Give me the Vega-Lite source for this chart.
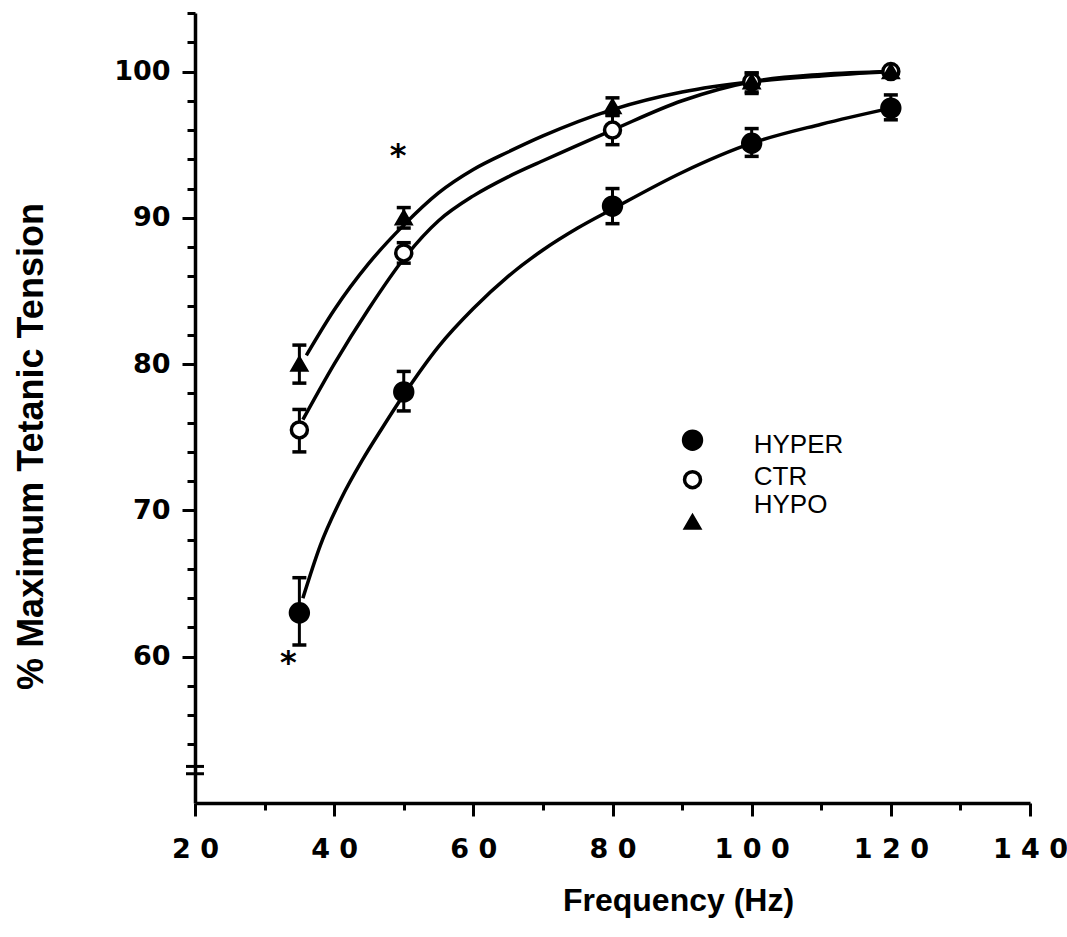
{
  "$schema": "https://vega.github.io/schema/vega-lite/v6.json",
  "width": 835,
  "height": 790,
  "autosize": {"type": "none"},
  "padding": {"left": 195, "top": 13, "right": 37, "bottom": 134},
  "background": "white",
  "config": {
    "view": {"stroke": null},
    "axis": {"grid": false, "domainColor": "black", "tickColor": "black", "domainWidth": 3.5, "tickWidth": 3, "labelColor": "black", "titleColor": "black"}
  },
  "resolve": {"axis": {"x": "independent", "y": "independent"}},
  "datasets": {
    "means": [
      {"group": "HYPER", "f": 35, "p": 63.0, "lo": 60.8, "hi": 65.4},
      {"group": "HYPER", "f": 50, "p": 78.1, "lo": 76.8, "hi": 79.5},
      {"group": "HYPER", "f": 80, "p": 90.8, "lo": 89.6, "hi": 92.0},
      {"group": "HYPER", "f": 100, "p": 95.1, "lo": 94.2, "hi": 96.1},
      {"group": "HYPER", "f": 120, "p": 97.5, "lo": 96.7, "hi": 98.4},
      {"group": "CTR", "f": 35, "p": 75.5, "lo": 74.0, "hi": 76.9},
      {"group": "CTR", "f": 50, "p": 87.6, "lo": 86.9, "hi": 88.3},
      {"group": "CTR", "f": 80, "p": 96.0, "lo": 95.0, "hi": 97.0},
      {"group": "CTR", "f": 100, "p": 99.3, "lo": 98.6, "hi": 99.9},
      {"group": "CTR", "f": 120, "p": 100.0, "lo": null, "hi": null},
      {"group": "HYPO", "f": 35, "p": 80.0, "lo": 78.7, "hi": 81.3},
      {"group": "HYPO", "f": 50, "p": 90.0, "lo": 89.3, "hi": 90.7},
      {"group": "HYPO", "f": 80, "p": 97.6, "lo": 97.0, "hi": 98.2},
      {"group": "HYPO", "f": 100, "p": 99.3, "lo": 98.5, "hi": 99.9},
      {"group": "HYPO", "f": 120, "p": 100.0, "lo": null, "hi": null}
    ],
    "curves": [
      {"group": "HYPER", "f": 35.5, "p": 64.0},
      {"group": "HYPER", "f": 38, "p": 67.6},
      {"group": "HYPER", "f": 41, "p": 70.8},
      {"group": "HYPER", "f": 44, "p": 73.4},
      {"group": "HYPER", "f": 47, "p": 75.7},
      {"group": "HYPER", "f": 50, "p": 77.9},
      {"group": "HYPER", "f": 55, "p": 81.2},
      {"group": "HYPER", "f": 60, "p": 83.8},
      {"group": "HYPER", "f": 65, "p": 86.0},
      {"group": "HYPER", "f": 70, "p": 87.8},
      {"group": "HYPER", "f": 75, "p": 89.3},
      {"group": "HYPER", "f": 80, "p": 90.6},
      {"group": "HYPER", "f": 90, "p": 93.1},
      {"group": "HYPER", "f": 100, "p": 95.1},
      {"group": "HYPER", "f": 110, "p": 96.4},
      {"group": "HYPER", "f": 120, "p": 97.5},
      {"group": "CTR", "f": 35.5, "p": 76.2},
      {"group": "CTR", "f": 40, "p": 80.0},
      {"group": "CTR", "f": 45, "p": 83.8},
      {"group": "CTR", "f": 50, "p": 87.2},
      {"group": "CTR", "f": 55, "p": 89.8},
      {"group": "CTR", "f": 60, "p": 91.5},
      {"group": "CTR", "f": 65, "p": 92.8},
      {"group": "CTR", "f": 70, "p": 93.9},
      {"group": "CTR", "f": 80, "p": 96.0},
      {"group": "CTR", "f": 90, "p": 98.0},
      {"group": "CTR", "f": 100, "p": 99.3},
      {"group": "CTR", "f": 110, "p": 99.8},
      {"group": "CTR", "f": 120, "p": 100.0},
      {"group": "HYPO", "f": 36, "p": 80.6},
      {"group": "HYPO", "f": 40, "p": 83.7},
      {"group": "HYPO", "f": 45, "p": 86.9},
      {"group": "HYPO", "f": 50, "p": 89.5},
      {"group": "HYPO", "f": 55, "p": 91.7},
      {"group": "HYPO", "f": 60, "p": 93.3},
      {"group": "HYPO", "f": 65, "p": 94.5},
      {"group": "HYPO", "f": 70, "p": 95.6},
      {"group": "HYPO", "f": 80, "p": 97.4},
      {"group": "HYPO", "f": 90, "p": 98.6},
      {"group": "HYPO", "f": 100, "p": 99.3},
      {"group": "HYPO", "f": 110, "p": 99.7},
      {"group": "HYPO", "f": 120, "p": 100.0}
    ],
    "legend": [
      {"group": "HYPER", "f": 91.5, "p": 74.8, "tf": 100.3, "tp": 74.5},
      {"group": "CTR", "f": 91.5, "p": 72.1, "tf": 100.3, "tp": 72.3},
      {"group": "HYPO", "f": 91.5, "p": 69.2, "tf": 100.3, "tp": 70.4}
    ],
    "stars": [
      {"f": 49.2, "p": 94.8},
      {"f": 33.4, "p": 60.1}
    ],
    "breaks": [
      {"f": 20, "p": 52.0},
      {"f": 20, "p": 52.5}
    ]
  },
  "layer": [
    {
      "data": {"name": "curves"},
      "mark": {"type": "line", "interpolate": "monotone", "color": "black", "strokeWidth": 3.5},
      "encoding": {
        "x": {
          "field": "f", "type": "quantitative",
          "scale": {"domain": [20, 140], "nice": false, "zero": false},
          "axis": {
            "orient": "bottom",
            "values": [20, 40, 60, 80, 100, 120, 140],
            "labelExpr": "join(split(datum.label, ''), ' ')",
            "tickSize": 13,
            "labelFontSize": 27,
            "labelFont": "DejaVu Sans", "labelFontWeight": "bold",
            "labelPadding": 20, "labelOverlap": false, "labelFlush": false,
            "title": "Frequency (Hz)", "titleFont": "Liberation Sans", "titleFontWeight": "bold", "titleFontSize": 32,
            "titleX": 483, "titleY": 97, "titleAlign": "center", "titleBaseline": "middle"
          }
        },
        "y": {
          "field": "p", "type": "quantitative",
          "scale": {"domain": [50, 104], "nice": false, "zero": false},
          "axis": {
            "orient": "left",
            "values": [60, 70, 80, 90, 100],
            "tickSize": 13,
            "labelFontSize": 27,
            "labelFont": "DejaVu Sans", "labelFontWeight": "bold",
            "labelPadding": 12, "labelOverlap": false, "labelFlush": false,
            "title": "% Maximum Tetanic Tension", "titleFont": "Liberation Sans", "titleFontWeight": "bold", "titleFontSize": 36,
            "titleX": -164, "titleY": 433, "titleAlign": "center", "titleBaseline": "middle", "titleAngle": 270
          }
        },
        "detail": {"field": "group"}
      }
    },
    {
      "data": {"name": "breaks"},
      "mark": {"type": "tick", "orient": "horizontal", "color": "black", "opacity": 1, "size": 18, "thickness": 3},
      "encoding": {
        "x": {
          "field": "f", "type": "quantitative",
          "axis": {"orient": "bottom", "values": [30, 50, 70, 90, 110, 130], "labels": false, "tickSize": 7, "tickWidth": 3, "tickColor": "black", "tickOpacity": 1, "domain": false, "title": null}
        },
        "y": {
          "field": "p", "type": "quantitative",
          "axis": {"orient": "left", "values": [54, 56, 58, 62, 64, 66, 68, 72, 74, 76, 78, 82, 84, 86, 88, 92, 94, 96, 98, 102, 104], "labels": false, "tickSize": 8, "tickWidth": 3, "tickColor": "black", "tickOpacity": 1, "domain": false, "title": null}
        }
      }
    },
    {
      "data": {"name": "means"},
      "mark": {"type": "rule", "color": "black", "strokeWidth": 3, "opacity": 1},
      "encoding": {
        "x": {"field": "f", "type": "quantitative", "axis": null},
        "y": {"field": "lo", "type": "quantitative", "axis": null},
        "y2": {"field": "hi"}
      }
    },
    {
      "data": {"name": "means"},
      "mark": {"type": "tick", "orient": "horizontal", "color": "black", "opacity": 1, "size": 14, "thickness": 3.5},
      "encoding": {
        "x": {"field": "f", "type": "quantitative", "axis": null},
        "y": {"field": "lo", "type": "quantitative", "axis": null}
      }
    },
    {
      "data": {"name": "means"},
      "mark": {"type": "tick", "orient": "horizontal", "color": "black", "opacity": 1, "size": 14, "thickness": 3.5},
      "encoding": {
        "x": {"field": "f", "type": "quantitative", "axis": null},
        "y": {"field": "hi", "type": "quantitative", "axis": null}
      }
    },
    {
      "data": {"name": "means"},
      "mark": {"type": "point", "stroke": "black", "strokeWidth": 3.5, "opacity": 1, "fillOpacity": 1},
      "encoding": {
        "x": {"field": "f", "type": "quantitative", "axis": null},
        "y": {"field": "p", "type": "quantitative", "axis": null},
        "shape": {"field": "group", "type": "nominal", "scale": {"domain": ["HYPER", "CTR", "HYPO"], "range": ["circle", "circle", "triangle-up"]}, "legend": null},
        "fill": {"field": "group", "type": "nominal", "scale": {"domain": ["HYPER", "CTR", "HYPO"], "range": ["black", "white", "black"]}, "legend": null},
        "size": {"field": "group", "type": "nominal", "scale": {"domain": ["HYPER", "CTR", "HYPO"], "range": [320, 190, 390]}, "legend": null},
        "order": {"field": "group", "sort": "ascending"}
      }
    },
    {
      "data": {"name": "legend"},
      "mark": {"type": "point", "stroke": "black", "strokeWidth": 3.5, "opacity": 1, "fillOpacity": 1},
      "encoding": {
        "x": {"field": "f", "type": "quantitative", "axis": null},
        "y": {"field": "p", "type": "quantitative", "axis": null},
        "shape": {"field": "group", "type": "nominal", "legend": null},
        "fill": {"field": "group", "type": "nominal", "legend": null},
        "size": {"field": "group", "type": "nominal", "legend": null}
      }
    },
    {
      "data": {"name": "legend"},
      "mark": {"type": "text", "align": "left", "baseline": "middle", "font": "Liberation Sans", "fontSize": 26, "color": "black"},
      "encoding": {
        "x": {"field": "tf", "type": "quantitative", "axis": null},
        "y": {"field": "tp", "type": "quantitative", "axis": null},
        "text": {"field": "group"}
      }
    },
    {
      "data": {"name": "stars"},
      "mark": {"type": "text", "text": "*", "align": "center", "baseline": "middle", "font": "DejaVu Sans", "fontWeight": "bold", "fontSize": 32, "color": "black", "dy": 8},
      "encoding": {
        "x": {"field": "f", "type": "quantitative", "axis": null},
        "y": {"field": "p", "type": "quantitative", "axis": null}
      }
    }
  ]
}
